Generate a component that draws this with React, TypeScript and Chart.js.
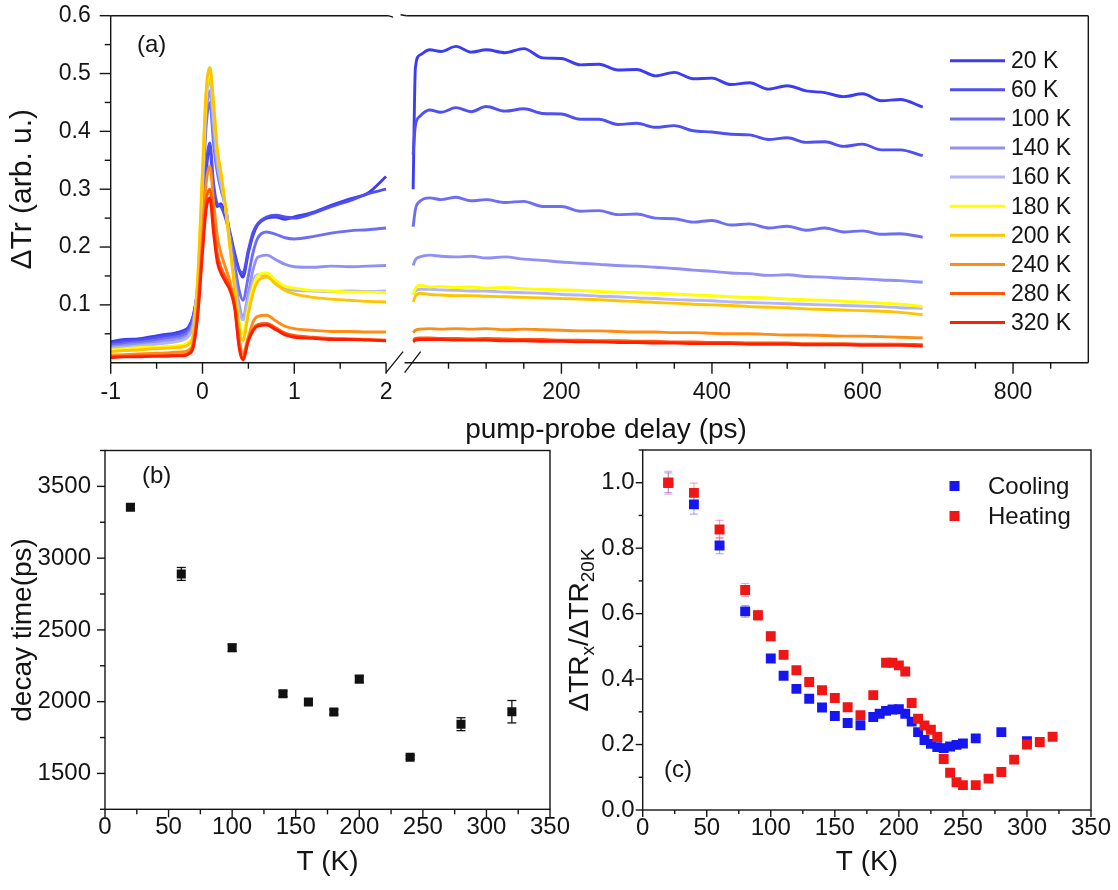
import React, { useEffect, useRef } from "react";
import { Chart, registerables } from "chart.js";

Chart.register(...registerables);

const FONT = "'Liberation Sans', Arial, Helvetica, sans-serif";
const INK = "#141414";

/* ---------------- panel (a): transient traces ---------------- */
const temperatureLabels = ["20 K", "60 K", "100 K", "140 K", "160 K", "180 K", "200 K", "240 K", "280 K", "320 K"];
const traceColors = ["#3c3cf2", "#4f4ff2", "#6e6ef4", "#9090f7", "#b4b4fb", "#ffff00", "#ffc400", "#ff8c14", "#ff5a0a", "#ff1e00"];

// delay (ps) before the axis break
const delayLeft = [-1, -0.85, -0.7, -0.55, -0.4, -0.3, -0.2, -0.15, -0.1, -0.05, 0, 0.04, 0.08, 0.12, 0.16, 0.2, 0.25, 0.3, 0.35, 0.4, 0.44, 0.5, 0.55, 0.6, 0.7, 0.8, 0.9, 1.0, 1.2, 1.4, 1.6, 1.8, 2.0];
// delay (ps) after the axis break
const delayRight = [3, 6, 12, 25, 40, 60, 80, 100, 125, 150, 175, 200, 225, 250, 275, 300, 325, 350, 375, 400, 425, 450, 475, 500, 525, 550, 575, 600, 625, 650, 680];

const left20K = [0.036, 0.040, 0.041, 0.045, 0.049, 0.051, 0.056, 0.062, 0.082, 0.13, 0.24, 0.33, 0.37, 0.30, 0.27, 0.275, 0.255, 0.225, 0.19, 0.16, 0.148, 0.19, 0.22, 0.238, 0.25, 0.252, 0.248, 0.252, 0.26, 0.272, 0.283, 0.293, 0.322];
const left60K = [0.033, 0.037, 0.039, 0.042, 0.046, 0.048, 0.053, 0.06, 0.08, 0.13, 0.25, 0.34, 0.38, 0.31, 0.275, 0.27, 0.25, 0.22, 0.185, 0.16, 0.155, 0.195, 0.225, 0.24, 0.252, 0.255, 0.252, 0.25, 0.258, 0.27, 0.28, 0.292, 0.30];
const left100K = [0.030, 0.033, 0.035, 0.038, 0.042, 0.044, 0.048, 0.055, 0.075, 0.14, 0.29, 0.41, 0.45, 0.38, 0.33, 0.30, 0.27, 0.22, 0.17, 0.125, 0.108, 0.15, 0.19, 0.215, 0.226, 0.222, 0.216, 0.214, 0.218, 0.224, 0.228, 0.23, 0.233];
const left140K = [0.027, 0.030, 0.032, 0.034, 0.038, 0.040, 0.044, 0.05, 0.07, 0.14, 0.30, 0.43, 0.47, 0.40, 0.34, 0.31, 0.27, 0.21, 0.15, 0.10, 0.08, 0.12, 0.16, 0.182, 0.186, 0.178, 0.17, 0.166, 0.165, 0.167, 0.166, 0.167, 0.168];
const left160K = [0.025, 0.027, 0.029, 0.031, 0.034, 0.036, 0.04, 0.046, 0.065, 0.14, 0.31, 0.45, 0.49, 0.42, 0.35, 0.31, 0.27, 0.2, 0.14, 0.09, 0.074, 0.11, 0.14, 0.152, 0.15, 0.138, 0.128, 0.125, 0.124, 0.123, 0.124, 0.123, 0.124];
const left180K = [0.022, 0.024, 0.026, 0.027, 0.028, 0.029, 0.031, 0.036, 0.05, 0.15, 0.33, 0.46, 0.51, 0.45, 0.37, 0.33, 0.27, 0.2, 0.13, 0.07, 0.05, 0.095, 0.13, 0.15, 0.155, 0.142, 0.132, 0.129, 0.125, 0.124, 0.122, 0.122, 0.121];
const left200K = [0.019, 0.021, 0.022, 0.024, 0.025, 0.026, 0.028, 0.032, 0.048, 0.15, 0.33, 0.47, 0.51, 0.45, 0.37, 0.33, 0.27, 0.2, 0.13, 0.06, 0.038, 0.085, 0.12, 0.14, 0.148, 0.136, 0.125, 0.119, 0.113, 0.11, 0.108, 0.106, 0.105];
const left240K = [0.013, 0.014, 0.015, 0.016, 0.017, 0.018, 0.019, 0.022, 0.035, 0.1, 0.22, 0.31, 0.34, 0.28, 0.22, 0.19, 0.165, 0.14, 0.1, 0.04, 0.016, 0.045, 0.07, 0.08, 0.082, 0.072, 0.063, 0.059, 0.056, 0.054, 0.054, 0.053, 0.053];
const left280K = [0.010, 0.011, 0.012, 0.012, 0.013, 0.013, 0.014, 0.017, 0.03, 0.09, 0.2, 0.28, 0.30, 0.24, 0.19, 0.165, 0.148, 0.13, 0.1, 0.03, 0.007, 0.04, 0.058, 0.066, 0.068, 0.06, 0.051, 0.047, 0.044, 0.042, 0.041, 0.04, 0.039];
const left320K = [0.009, 0.010, 0.010, 0.011, 0.011, 0.012, 0.012, 0.015, 0.027, 0.085, 0.19, 0.265, 0.285, 0.225, 0.175, 0.155, 0.14, 0.125, 0.095, 0.025, 0.005, 0.038, 0.055, 0.063, 0.065, 0.057, 0.048, 0.044, 0.042, 0.04, 0.04, 0.039, 0.038];

const right20K = [0.30, 0.51, 0.532, 0.541, 0.538, 0.547, 0.537, 0.541, 0.536, 0.543, 0.527, 0.526, 0.515, 0.516, 0.506, 0.507, 0.496, 0.502, 0.491, 0.492, 0.481, 0.484, 0.473, 0.479, 0.47, 0.467, 0.46, 0.465, 0.453, 0.455, 0.442];
const right60K = [0.36, 0.41, 0.426, 0.437, 0.433, 0.441, 0.434, 0.443, 0.435, 0.439, 0.431, 0.43, 0.421, 0.421, 0.412, 0.414, 0.407, 0.41, 0.401, 0.399, 0.395, 0.394, 0.386, 0.389, 0.381, 0.382, 0.374, 0.378, 0.368, 0.368, 0.358];
const right100K = [0.235, 0.265, 0.279, 0.285, 0.282, 0.286, 0.28, 0.282, 0.277, 0.279, 0.27, 0.27, 0.262, 0.263, 0.256, 0.257, 0.25, 0.249, 0.243, 0.246, 0.238, 0.24, 0.233, 0.236, 0.229, 0.233, 0.226, 0.228, 0.222, 0.223, 0.217];
const right140K = [0.168, 0.178, 0.183, 0.186, 0.184, 0.183, 0.184, 0.181, 0.183, 0.179, 0.177, 0.174, 0.172, 0.17, 0.168, 0.167, 0.165, 0.163, 0.16, 0.158, 0.155, 0.154, 0.151, 0.152, 0.149, 0.148, 0.146, 0.145, 0.143, 0.142, 0.139];
const right160K = [0.118, 0.124, 0.127, 0.127, 0.126, 0.125, 0.124, 0.124, 0.122, 0.121, 0.12, 0.118, 0.117, 0.115, 0.114, 0.112, 0.111, 0.109, 0.108, 0.107, 0.105, 0.104, 0.103, 0.102, 0.101, 0.1, 0.099, 0.098, 0.097, 0.095, 0.094];
const right180K = [0.118, 0.128, 0.134, 0.131, 0.132, 0.13, 0.131, 0.129, 0.13, 0.128, 0.127, 0.126, 0.125, 0.123, 0.122, 0.121, 0.12, 0.119, 0.117, 0.116, 0.114, 0.113, 0.112, 0.11, 0.109, 0.108, 0.106, 0.105, 0.103, 0.101, 0.097];
const right200K = [0.105, 0.115, 0.12, 0.118, 0.117, 0.116, 0.116, 0.115, 0.114, 0.113, 0.112, 0.111, 0.11, 0.109, 0.107, 0.106, 0.104, 0.103, 0.101, 0.1, 0.099, 0.097, 0.096, 0.095, 0.093, 0.092, 0.091, 0.09, 0.089, 0.087, 0.083];
const right240K = [0.052, 0.056, 0.058, 0.059, 0.058, 0.059, 0.058, 0.059, 0.057, 0.058, 0.057, 0.056, 0.055, 0.055, 0.054, 0.053, 0.053, 0.052, 0.052, 0.051, 0.05, 0.05, 0.049, 0.048, 0.048, 0.047, 0.046, 0.046, 0.045, 0.044, 0.043];
const right280K = [0.039, 0.042, 0.043, 0.043, 0.042, 0.042, 0.041, 0.042, 0.041, 0.04, 0.04, 0.039, 0.039, 0.038, 0.038, 0.037, 0.037, 0.036, 0.036, 0.035, 0.035, 0.034, 0.034, 0.034, 0.033, 0.033, 0.033, 0.032, 0.032, 0.032, 0.031];
const right320K = [0.036, 0.039, 0.04, 0.04, 0.04, 0.039, 0.039, 0.039, 0.038, 0.038, 0.037, 0.037, 0.036, 0.036, 0.035, 0.035, 0.034, 0.034, 0.033, 0.033, 0.033, 0.032, 0.032, 0.032, 0.031, 0.031, 0.031, 0.03, 0.03, 0.03, 0.029];

const leftTraces = [left20K, left60K, left100K, left140K, left160K, left180K, left200K, left240K, left280K, left320K];
const rightTraces = [right20K, right60K, right100K, right140K, right160K, right180K, right200K, right240K, right280K, right320K];

const leftXTicks = [-1, -0.5, 0, 0.5, 1, 1.5, 2];
const leftXLabels = ["-1", "", "0", "", "1", "", "2"];
const rightXTicks = [50, 100, 150, 200, 250, 300, 350, 400, 450, 500, 550, 600, 650, 700, 750, 800, 850];
const rightXLabels = ["", "", "", "200", "", "", "", "400", "", "", "", "600", "", "", "", "800", ""];

/* ---------------- panel (b): decay time ---------------- */
const decayTemp = [20, 60, 100, 140, 160, 180, 200, 240, 280, 320];
const decayTime = [3355, 2890, 2375, 2055, 1998, 1928, 2157, 1613, 1843, 1930];
const decayErr = [15, 45, 25, 20, 15, 18, 22, 12, 45, 78];

/* ---------------- panel (c): normalised amplitude ---------------- */
const coolTemp = [20, 40, 60, 80, 100, 110, 120, 130, 140, 150, 160, 170, 180, 185, 190, 195, 200, 205, 210, 215, 220, 225, 230, 235, 240, 245, 250, 260, 280, 300];
const coolRatio = [1.0, 0.934, 0.808, 0.607, 0.463, 0.410, 0.370, 0.340, 0.313, 0.287, 0.266, 0.259, 0.284, 0.294, 0.303, 0.307, 0.308, 0.294, 0.270, 0.238, 0.214, 0.202, 0.192, 0.189, 0.194, 0.199, 0.203, 0.219, 0.238, 0.210];
const coolErr = [0.03, 0.03, 0.025, 0.018, 0.012, 0.008, 0.006, 0.005, 0.005, 0.005, 0.005, 0.005, 0.005, 0.005, 0.005, 0.005, 0.005, 0.005, 0.005, 0.005, 0.005, 0.005, 0.005, 0.005, 0.005, 0.005, 0.005, 0.005, 0.005, 0.005];
const heatTemp = [20, 40, 60, 80, 90, 100, 110, 120, 130, 140, 150, 160, 170, 180, 190, 195, 200, 205, 210, 215, 220, 225, 230, 235, 240, 245, 250, 260, 270, 280, 290, 300, 310, 320];
const heatRatio = [1.0, 0.969, 0.857, 0.672, 0.595, 0.531, 0.474, 0.427, 0.391, 0.366, 0.342, 0.314, 0.290, 0.351, 0.450, 0.450, 0.442, 0.423, 0.327, 0.279, 0.258, 0.245, 0.223, 0.156, 0.114, 0.085, 0.076, 0.076, 0.096, 0.116, 0.154, 0.200, 0.208, 0.224];
const heatErr = [0.035, 0.03, 0.028, 0.02, 0.015, 0.014, 0.012, 0.008, 0.006, 0.006, 0.005, 0.005, 0.005, 0.005, 0.005, 0.005, 0.005, 0.005, 0.005, 0.005, 0.005, 0.005, 0.005, 0.005, 0.005, 0.005, 0.005, 0.005, 0.005, 0.005, 0.005, 0.005, 0.005, 0.005];

/* ---------------- broken axis geometry ---------------- */
const SEG_GAP = 0.18;
const RIGHT_START = -11;
const RIGHT_SCALE = 0.0082;
const axisRight = (ps: number) => 2 + SEG_GAP + (ps - RIGHT_START) * RIGHT_SCALE;
const X_MAX = axisRight(900);

const xTickDefs = [
  ...leftXTicks.map((v, i) => ({ u: v, label: leftXLabels[i], major: leftXLabels[i] !== "" })),
  ...rightXTicks.map((v, i) => ({ u: axisRight(v), label: rightXLabels[i], major: rightXLabels[i] !== "" })),
];

function seg(ctx: CanvasRenderingContext2D, x1: number, y1: number, x2: number, y2: number) {
  ctx.beginPath();
  ctx.moveTo(x1, y1);
  ctx.lineTo(x2, y2);
  ctx.stroke();
}

function drawBox(ctx: CanvasRenderingContext2D, ca: any) {
  ctx.strokeStyle = INK;
  ctx.lineWidth = 1.4;
  ctx.strokeRect(ca.left, ca.top, ca.right - ca.left, ca.bottom - ca.top);
}

function drawErrors(ctx: CanvasRenderingContext2D, xs: any, ys: any, xv: number[], yv: number[], ev: number[], color: string, cap: number, lw: number) {
  ctx.strokeStyle = color;
  ctx.lineWidth = lw;
  xv.forEach((t, i) => {
    const px = xs.getPixelForValue(t);
    const top = ys.getPixelForValue(yv[i] + ev[i]);
    const bot = ys.getPixelForValue(yv[i] - ev[i]);
    seg(ctx, px, top, px, bot);
    seg(ctx, px - cap, top, px + cap, top);
    seg(ctx, px - cap, bot, px + cap, bot);
  });
}

function drawAxisTicks(ctx: CanvasRenderingContext2D, chart: any, xMajor: (v: number) => boolean, yMajor: (v: number) => boolean, majorLen: number, minorLen: number) {
  const ca = chart.chartArea;
  const xs = chart.scales.x;
  const ys = chart.scales.y;
  ctx.strokeStyle = INK;
  ctx.lineWidth = 1.4;
  xs.ticks.forEach((t: any) => {
    const px = xs.getPixelForValue(t.value);
    seg(ctx, px, ca.bottom, px, ca.bottom + (xMajor(t.value) ? majorLen : minorLen));
  });
  ys.ticks.forEach((t: any) => {
    const py = ys.getPixelForValue(t.value);
    seg(ctx, ca.left - (yMajor(t.value) ? majorLen : minorLen), py, ca.left, py);
  });
}

function zeroPad(s: any) {
  s.paddingTop = 0;
  s.paddingBottom = 0;
  s.paddingLeft = 0;
  s.paddingRight = 0;
}

const panelAPlugin = {
  id: "panelA",
  afterDraw(chart: any) {
    const ctx: CanvasRenderingContext2D = chart.ctx;
    const ca = chart.chartArea;
    const xs = chart.scales.x;
    const ys = chart.scales.y;
    ctx.save();
    ctx.strokeStyle = INK;
    ctx.lineWidth = 1.4;
    const bx = xs.getPixelForValue(2);
    const bx2 = xs.getPixelForValue(2 + SEG_GAP);
    // frame with break
    seg(ctx, ca.left, ca.top, ca.left, ca.bottom);
    seg(ctx, ca.right, ca.top, ca.right, ca.bottom);
    seg(ctx, ca.left, ca.bottom, bx, ca.bottom);
    seg(ctx, bx2 + 2, ca.bottom, ca.right, ca.bottom);
    seg(ctx, ca.left, ca.top, bx + 2, ca.top);
    seg(ctx, bx + 2, ca.top, bx + 7, ca.top + 1.5);
    seg(ctx, bx2 - 2, ca.top - 1, bx2 + 4, ca.top);
    seg(ctx, bx2 + 4, ca.top, ca.right, ca.top);
    // break marks
    ctx.lineWidth = 1.3;
    seg(ctx, bx, ca.bottom + 10, bx + 17, ca.bottom - 11);
    seg(ctx, bx2 + 2, ca.bottom + 10, bx2 + 18, ca.bottom - 11);
    ctx.lineWidth = 1.4;
    // x ticks
    xTickDefs.forEach((d) => {
      const px = xs.getPixelForValue(d.u);
      seg(ctx, px, ca.bottom, px, ca.bottom + (d.major ? 11 : 6));
    });
    // y ticks
    ys.ticks.forEach((t: any) => {
      const k = Math.round(t.value * 100);
      if (k === 0) return;
      const py = ys.getPixelForValue(t.value);
      seg(ctx, ca.left - (k % 10 === 0 ? 11 : 6), py, ca.left, py);
    });
    // titles
    ctx.fillStyle = INK;
    ctx.textAlign = "center";
    ctx.textBaseline = "middle";
    ctx.font = `28px ${FONT}`;
    ctx.fillText("pump-probe delay (ps)", 606, 430);
    ctx.save();
    ctx.translate(23, (ca.top + ca.bottom) / 2);
    ctx.rotate(-Math.PI / 2);
    ctx.font = `30px ${FONT}`;
    ctx.fillText("\u0394Tr (arb. u.)", 0, 0);
    ctx.restore();
    ctx.textAlign = "left";
    ctx.font = `24px ${FONT}`;
    ctx.fillText("(a)", 137, 45);
    // legend
    ctx.font = `23px ${FONT}`;
    chart.data.datasets.forEach((ds: any, i: number) => {
      const yy = 60.7 + i * 29.1;
      ctx.strokeStyle = ds.borderColor;
      ctx.lineWidth = 3;
      seg(ctx, 950, yy, 1005, yy);
      ctx.fillStyle = INK;
      ctx.fillText(ds.label, 1011, yy + 1);
    });
    ctx.restore();
  },
};

const panelBPlugin = {
  id: "panelB",
  beforeDatasetsDraw(chart: any) {
    const ctx: CanvasRenderingContext2D = chart.ctx;
    ctx.save();
    drawErrors(ctx, chart.scales.x, chart.scales.y, decayTemp, decayTime, decayErr, "#111", 4.5, 1.3);
    ctx.restore();
  },
  afterDraw(chart: any) {
    const ctx: CanvasRenderingContext2D = chart.ctx;
    const ca = chart.chartArea;
    ctx.save();
    drawBox(ctx, ca);
    drawAxisTicks(ctx, chart, (v) => v % 50 === 0, (v) => v % 500 === 0, 8, 5);
    ctx.fillStyle = INK;
    ctx.textAlign = "center";
    ctx.textBaseline = "middle";
    ctx.font = `28px ${FONT}`;
    ctx.fillText("T (K)", (ca.left + ca.right) / 2, 422);
    ctx.save();
    ctx.translate(23, (ca.top + ca.bottom) / 2);
    ctx.rotate(-Math.PI / 2);
    ctx.fillText("decay time(ps)", 0, 0);
    ctx.restore();
    ctx.textAlign = "left";
    ctx.font = `24px ${FONT}`;
    ctx.fillText("(b)", 142, 36);
    ctx.restore();
  },
};

const COOL = "rgb(22,22,240)";
const HEAT = "rgb(240,22,22)";

const panelCPlugin = {
  id: "panelC",
  beforeDatasetsDraw(chart: any) {
    const ctx: CanvasRenderingContext2D = chart.ctx;
    ctx.save();
    drawErrors(ctx, chart.scales.x, chart.scales.y, coolTemp, coolRatio, coolErr, "rgba(110,110,240,0.6)", 4, 1.1);
    drawErrors(ctx, chart.scales.x, chart.scales.y, heatTemp, heatRatio, heatErr, "rgba(230,110,130,0.6)", 4, 1.1);
    ctx.restore();
  },
  afterDraw(chart: any) {
    const ctx: CanvasRenderingContext2D = chart.ctx;
    const ca = chart.chartArea;
    ctx.save();
    drawBox(ctx, ca);
    drawAxisTicks(ctx, chart, (v) => v % 50 === 0, (v) => Math.round(v * 10) % 2 === 0, 7, 4);
    ctx.fillStyle = INK;
    ctx.textAlign = "center";
    ctx.textBaseline = "middle";
    ctx.font = `28px ${FONT}`;
    ctx.fillText("T (K)", (ca.left + ca.right) / 2, 422);
    // y title with subscripts
    const parts = [
      { t: "\u0394TR", sub: false },
      { t: "x", sub: true },
      { t: "/\u0394TR", sub: false },
      { t: "20K", sub: true },
    ];
    ctx.save();
    ctx.translate(18, (ca.top + ca.bottom) / 2);
    ctx.rotate(-Math.PI / 2);
    ctx.textAlign = "left";
    ctx.textBaseline = "alphabetic";
    let total = 0;
    parts.forEach((p) => {
      ctx.font = `${p.sub ? 19 : 28}px ${FONT}`;
      total += ctx.measureText(p.t).width;
    });
    let x = -total / 2;
    parts.forEach((p) => {
      ctx.font = `${p.sub ? 19 : 28}px ${FONT}`;
      ctx.fillText(p.t, x, p.sub ? 16 : 10);
      x += ctx.measureText(p.t).width;
    });
    ctx.restore();
    // legend
    ctx.textAlign = "left";
    ctx.textBaseline = "middle";
    ctx.font = `24px ${FONT}`;
    const rows = [
      { label: "Cooling", color: COOL, y: 46 },
      { label: "Heating", color: HEAT, y: 76 },
    ];
    rows.forEach((r) => {
      ctx.fillStyle = r.color;
      ctx.fillRect(394.5 - 5, r.y - 5, 10, 10);
      ctx.fillStyle = INK;
      ctx.fillText(r.label, 428, r.y + 1);
    });
    ctx.fillText("(c)", 104, 330);
    ctx.restore();
  },
};

function baseScale(extra: any) {
  return {
    type: "linear",
    grid: { display: false, drawTicks: false },
    border: { display: false },
    ...extra,
  };
}

function configA(): any {
  const N = temperatureLabels.length;
  const datasets = temperatureLabels.map((label, i) => ({
    label,
    data: [
      ...delayLeft.map((t, j) => ({ x: t, y: leftTraces[i][j] })),
      { x: 2 + SEG_GAP / 2, y: null },
      ...delayRight.map((t, j) => ({ x: axisRight(t), y: rightTraces[i][j] })),
    ],
    borderColor: traceColors[i],
    backgroundColor: traceColors[i],
    borderWidth: 2.9,
    pointRadius: 0,
    cubicInterpolationMode: "monotone",
    spanGaps: false,
    order: N - i,
  }));
  return {
    type: "line",
    data: { datasets },
    options: {
      responsive: false,
      animation: false,
      events: [],
      layout: { padding: { left: 0, top: 15.7, right: 1118 - 1088.3, bottom: 0 } },
      plugins: { legend: { display: false }, tooltip: { enabled: false } },
      scales: {
        x: baseScale({
          min: -1,
          max: X_MAX,
          afterFit: (s: any) => { s.height = 445 - 362.7; zeroPad(s); },
          afterBuildTicks: (s: any) => { s.ticks = xTickDefs.map((d) => ({ value: d.u })); },
          ticks: {
            autoSkip: false,
            maxRotation: 0,
            padding: 16,
            color: INK,
            font: { size: 23, family: FONT },
            callback: (_v: any, i: number) => (xTickDefs[i] ? xTickDefs[i].label : ""),
          },
        }),
        y: baseScale({
          min: 0,
          max: 0.6,
          afterFit: (s: any) => { s.width = 110.7; zeroPad(s); },
          ticks: {
            stepSize: 0.05,
            autoSkip: false,
            padding: 20,
            color: INK,
            font: { size: 23, family: FONT },
            callback: (v: number) => {
              const k = Math.round(v * 100);
              return k > 0 && k % 10 === 0 ? (k / 100).toFixed(1) : "";
            },
          },
        }),
      },
    },
    plugins: [panelAPlugin],
  };
}

function configB(): any {
  return {
    type: "scatter",
    data: {
      datasets: [
        {
          label: "decay time",
          data: decayTemp.map((t, i) => ({ x: t, y: decayTime[i] })),
          pointStyle: "rect",
          pointRadius: 6.4,
          backgroundColor: "#111",
          borderColor: "#111",
          borderWidth: 0,
        },
      ],
    },
    options: {
      responsive: false,
      animation: false,
      events: [],
      layout: { padding: { left: 0, top: 10.5, right: 30, bottom: 0 } },
      plugins: { legend: { display: false }, tooltip: { enabled: false } },
      scales: {
        x: baseScale({
          min: 0,
          max: 350,
          afterFit: (s: any) => { s.height = 450 - 369.3; zeroPad(s); },
          ticks: {
            stepSize: 25,
            autoSkip: false,
            maxRotation: 0,
            padding: 4,
            color: INK,
            font: { size: 24, family: FONT },
            callback: (v: number) => (v % 50 === 0 ? String(v) : ""),
          },
        }),
        y: baseScale({
          min: 1250,
          max: 3750,
          afterFit: (s: any) => { s.width = 105; zeroPad(s); },
          ticks: {
            stepSize: 250,
            autoSkip: false,
            padding: 14,
            color: INK,
            font: { size: 24, family: FONT },
            callback: (v: number) => (v % 500 === 0 ? String(v) : ""),
          },
        }),
      },
    },
    plugins: [panelBPlugin],
  };
}

function configC(): any {
  return {
    type: "scatter",
    data: {
      datasets: [
        {
          label: "Cooling",
          data: coolTemp.map((t, i) => ({ x: t, y: coolRatio[i] })),
          pointStyle: "rect",
          pointRadius: 7,
          backgroundColor: COOL,
          borderWidth: 0,
          order: 2,
        },
        {
          label: "Heating",
          data: heatTemp.map((t, i) => ({ x: t, y: heatRatio[i] })),
          pointStyle: "rect",
          pointRadius: 7,
          backgroundColor: HEAT,
          borderWidth: 0,
          order: 1,
        },
      ],
    },
    options: {
      responsive: false,
      animation: false,
      events: [],
      layout: { padding: { left: 0, top: 10, right: 27, bottom: 0 } },
      plugins: { legend: { display: false }, tooltip: { enabled: false } },
      scales: {
        x: baseScale({
          min: 0,
          max: 350,
          afterFit: (s: any) => { s.height = 80; zeroPad(s); },
          ticks: {
            stepSize: 25,
            autoSkip: false,
            maxRotation: 0,
            padding: 4,
            color: INK,
            font: { size: 24, family: FONT },
            callback: (v: number) => (v % 50 === 0 ? String(v) : ""),
          },
        }),
        y: baseScale({
          min: 0,
          max: 1.1,
          afterFit: (s: any) => { s.width = 82.7; zeroPad(s); },
          ticks: {
            stepSize: 0.1,
            autoSkip: false,
            padding: 8,
            color: INK,
            font: { size: 24, family: FONT },
            callback: (v: number) => {
              const k = Math.round(v * 10);
              return k % 2 === 0 && k <= 10 ? (k / 10).toFixed(1) : "";
            },
          },
        }),
      },
    },
    plugins: [panelCPlugin],
  };
}

export default function App() {
  const aRef = useRef<HTMLCanvasElement>(null);
  const bRef = useRef<HTMLCanvasElement>(null);
  const cRef = useRef<HTMLCanvasElement>(null);

  useEffect(() => {
    Chart.defaults.font.family = FONT;
    Chart.defaults.color = INK;
    const charts = [
      new Chart(aRef.current as HTMLCanvasElement, configA()),
      new Chart(bRef.current as HTMLCanvasElement, configB()),
      new Chart(cRef.current as HTMLCanvasElement, configC()),
    ];
    return () => charts.forEach((c) => c.destroy());
  }, []);

  return (
    <div style={{ position: "absolute", left: 0, top: 0, width: 1118, height: 890, background: "#ffffff", overflow: "hidden" }}>
      <canvas ref={aRef} width={1118} height={445} style={{ position: "absolute", left: 0, top: 0 }} />
      <canvas ref={bRef} width={580} height={450} style={{ position: "absolute", left: 0, top: 440 }} />
      <canvas ref={cRef} width={558} height={450} style={{ position: "absolute", left: 560, top: 440 }} />
    </div>
  );
}
